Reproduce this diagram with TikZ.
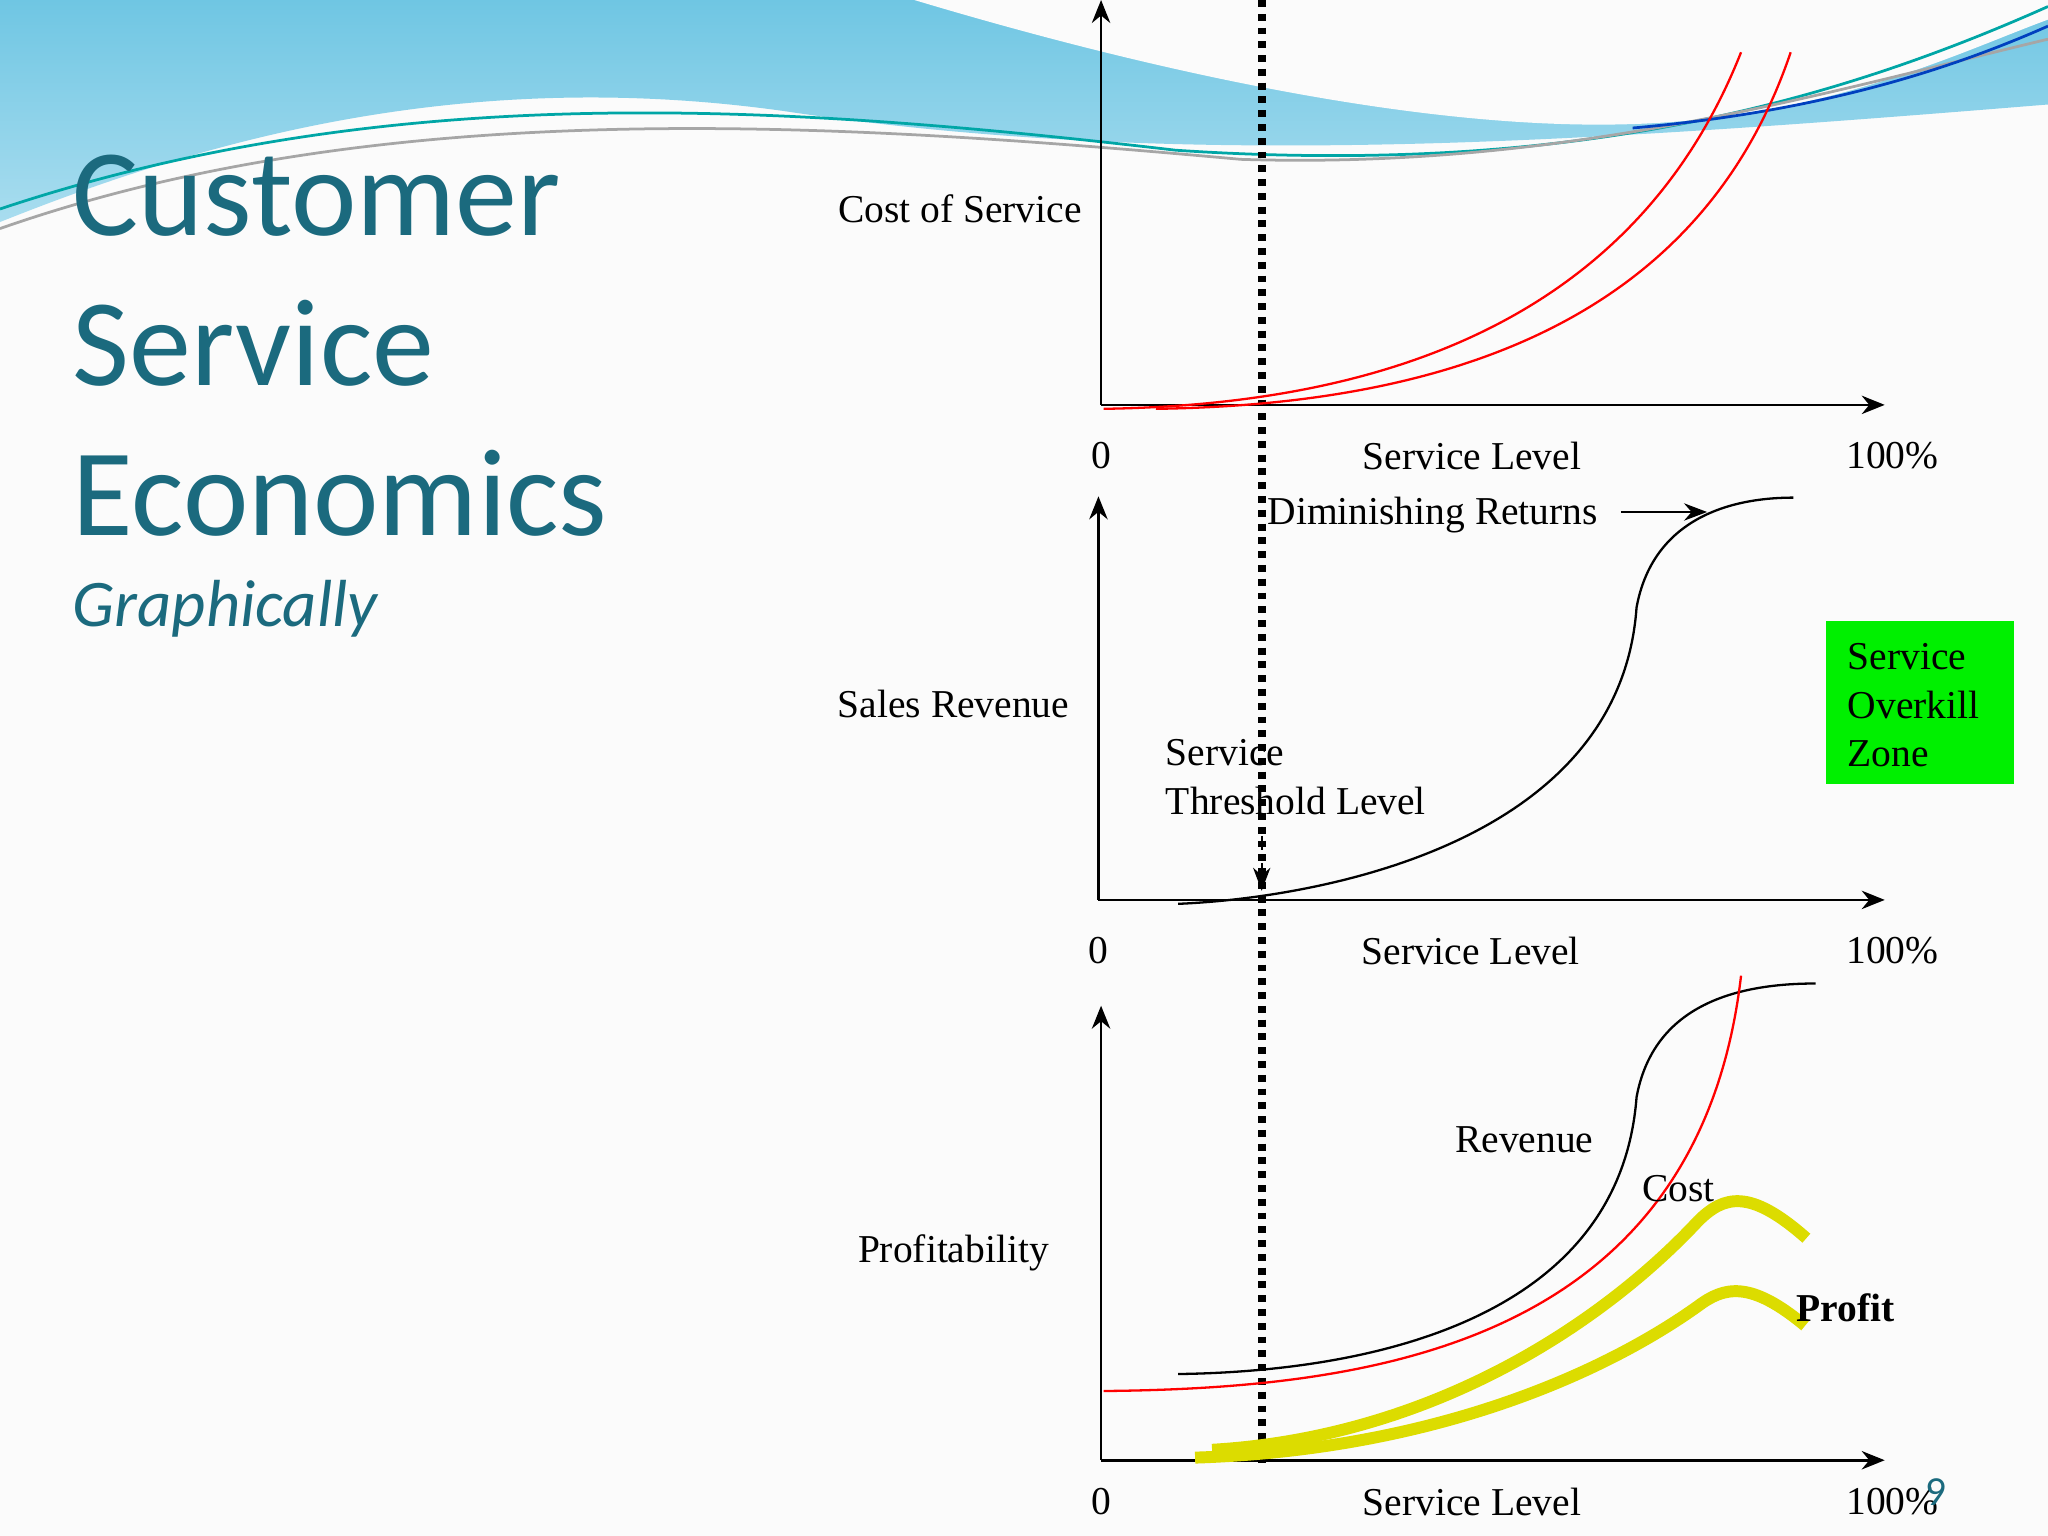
\documentclass[tikz,border=0pt]{standalone}
\usepackage{fontspec}
\setmainfont{Liberation Serif}
\newfontfamily\titlefont{Carlito}
\usetikzlibrary{arrows.meta}
\definecolor{teal1}{HTML}{1B6A7E}
\definecolor{bannerA}{HTML}{6FC6E3}
\definecolor{bannerB}{HTML}{A9DDEF}
\tikzset{
 lbl/.style={font=\fontsize{8.6}{10}\selectfont, inner sep=0pt},
 ttl/.style={font=\titlefont\fontsize{27}{32}\selectfont, text=teal1, anchor=base west, inner sep=0pt},
 axis/.style={line width=0.6pt, -{Stealth[length=5pt,width=4pt]}},
 redc/.style={red, line width=0.5pt},
 blkc/.style={black, line width=0.5pt},
 yel/.style={color={rgb,255:red,220;green,220;blue,0}, line width=2.6pt},
}
\begin{document}
\begin{tikzpicture}[x=0.01cm,y=-0.01cm]
\useasboundingbox (0,0) rectangle (1568,1176);
\fill[white!97!gray] (0,0) rectangle (1568,1176);
% banner
\shade[top color=bannerA, bottom color=bannerB] (0,0) -- (1568,0) -- (1568,80) .. controls (1200,110) and (900,130) .. (600,85) .. controls (350,50) and (150,110) .. (0,170) -- cycle;
\fill[white!97!gray] (700,0) .. controls (900,60) and (1100,100) .. (1250,95) .. controls (1400,90) and (1500,40) .. (1568,15) -- (1568,0) -- cycle;
\draw[teal!70!cyan, line width=0.6pt] (0,160) .. controls (300,60) and (600,80) .. (900,115) .. controls (1200,135) and (1400,80) .. (1568,5);
\draw[gray!70, line width=0.6pt] (0,175) .. controls (300,70) and (650,95) .. (950,122) .. controls (1200,130) and (1400,70) .. (1568,30);
\draw[blue!50!teal, line width=0.6pt] (1250,98) .. controls (1400,85) and (1500,50) .. (1568,20);
% title
\node[ttl] (t1) at (55,180) {Customer};
\node[ttl] (t2) at (55,295) {Service};
\node[ttl] (t3) at (55,410) {Economics};
\node[ttl, font=\titlefont\itshape\fontsize{14.5}{18}\selectfont] (t4) at (55,480) {Graphically};
% dotted
\draw[line width=1.8pt, dash pattern=on 1.5pt off 1.5pt] (966,0) -- (966,1120);
% top plot
\coordinate (o1) at (843,310);
\draw[axis] (o1) -- (843,0);
\draw[axis] (o1) -- (1443,310);
\node[lbl] (z1) at (843,349) {0};
\node[lbl] (s1) at (1127,349) {Service Level};
\node[lbl] (p1) at (1449,349) {100\%};
\node[lbl] (c1) at (735,160) {Cost of Service};
\draw[redc] (845,313) .. controls (1050,310) and (1250,250) .. (1333,40);
\draw[redc] (885,313) .. controls (1100,310) and (1300,250) .. (1371,40);
% middle plot
\coordinate (o2) at (841,689);
\draw[axis] (o2) -- (841,380);
\draw[axis] (o2) -- (1443,689);
\node[lbl] (z2) at (841,728) {0};
\node[lbl] (s2) at (1126,728) {Service Level};
\node[lbl] (p2) at (1449,728) {100\%};
\node[lbl] (c2) at (730,539) {Sales Revenue};
\draw[blkc] (902,692) .. controls (1000,688) and (1240,650) .. (1253,465) .. controls (1265,400) and (1320,381) .. (1373,381);
\node[lbl] (dr) at (1097,394) {Diminishing Returns};
\coordinate (dra) at (1241,392);
\coordinate (drb) at (1307,392);
\draw[line width=0.6pt,-{Stealth[length=5pt]}] (dra) -- (drb);
\node[lbl, align=left, anchor=west, font=\fontsize{8.6}{10.5}\selectfont] (thr) at (892,595) {Service\\Threshold Level};
\coordinate (ta) at (966,640);
\coordinate (tb) at (966,682);
\draw[line width=0.5pt, dashed, -{Stealth[length=5pt]}] (ta) -- (tb);
\node[fill={rgb,255:red,0;green,240;blue,0}, minimum width=1.44cm, minimum height=1.25cm, inner sep=0pt] (zone) at (1470,538) {};
\node[lbl, align=left, anchor=west, font=\fontsize{8.6}{10.5}\selectfont] (zt) at (1414,540) {Service\\Overkill\\Zone};
% bottom plot
\coordinate (o3) at (843,1118);
\draw[axis] (o3) -- (843,770);
\draw[axis] (o3) -- (1443,1118);
\node[lbl] (z3) at (843,1150) {0};
\node[lbl] (s3) at (1127,1150) {Service Level};
\node[lbl] (p3) at (1449,1150) {100\%};
\node[lbl] (c3) at (730,959) {Profitability};
\draw[blkc] (902,1052) .. controls (1050,1050) and (1240,1010) .. (1253,840) .. controls (1265,775) and (1320,753) .. (1390,753);
\draw[redc] (845,1065) .. controls (1050,1063) and (1300,1030) .. (1333,747);
\draw[yel] (928,1110) .. controls (1100,1100) and (1230,1010) .. (1300,935) .. controls (1320,915) and (1340,910) .. (1383,948);
\draw[yel] (915,1116) .. controls (1100,1110) and (1230,1050) .. (1300,1000) .. controls (1320,985) and (1340,980) .. (1382,1015);
\node[lbl] (rv) at (1167,873) {Revenue};
\node[lbl] (ct) at (1285,910) {Cost};
\node[lbl, font=\bfseries\fontsize{8.6}{10}\selectfont] (pf) at (1413,1001) {Profit};
\node[lbl, text=teal1, font=\titlefont\fontsize{9}{10}\selectfont] (pg) at (1482,1142) {9};
\end{tikzpicture}
\end{document}
